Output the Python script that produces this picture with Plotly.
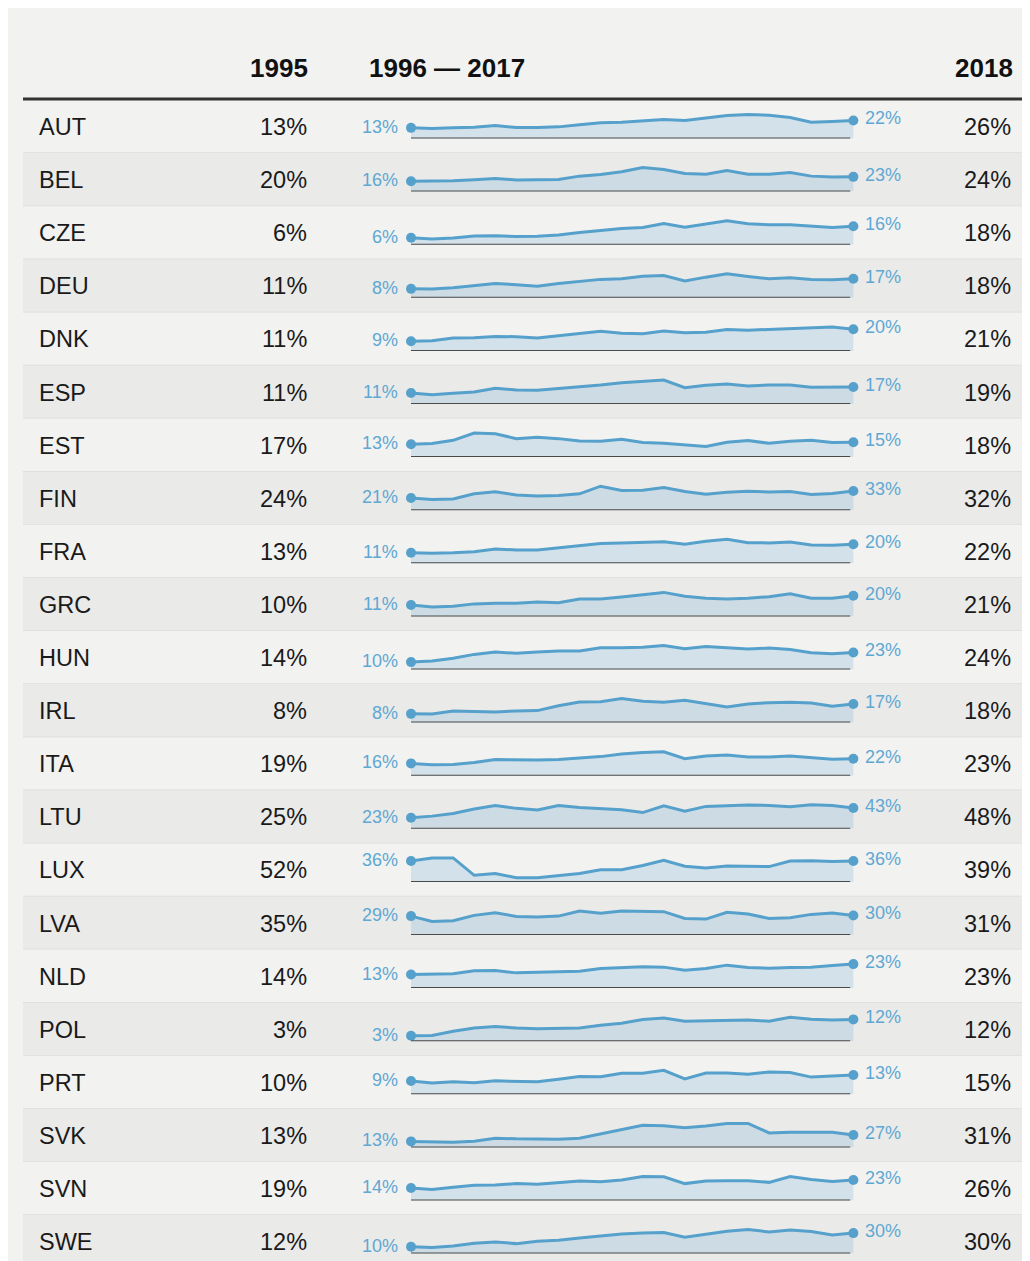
import plotly.graph_objects as go

# the page body keeps a default 8px margin, so the figure is drawn 8px in
OFF = 8
W, H = 1030 - OFF, 1261 - OFF

countries = ["AUT", "BEL", "CZE", "DEU", "DNK", "ESP", "EST", "FIN", "FRA", "GRC", "HUN",
             "IRL", "ITA", "LTU", "LUX", "LVA", "NLD", "POL", "PRT", "SVK", "SVN", "SWE"]
val_1995 = [13, 20, 6, 11, 11, 11, 17, 24, 13, 10, 14, 8, 19, 25, 52, 35, 14, 3, 10, 13, 19, 12]
val_2018 = [26, 24, 18, 18, 21, 19, 18, 32, 22, 21, 24, 18, 23, 48, 39, 31, 23, 12, 15, 31, 26, 30]
years = list(range(1996, 2018))

# 1996 - 2017 series
aut = [13, 12.2, 13.0, 13.8, 15.9, 13.4, 13.4, 14.2, 16.7, 19.1, 19.9, 21.5, 23.2, 22.0, 24.8, 28.0, 29.3, 28.5, 25.6, 19.9, 20.7, 22]
bel = [16, 16.0, 17.0, 18.6, 20.6, 18.2, 18.2, 18.7, 24.1, 26.7, 30.8, 37.4, 34.4, 28.2, 27.2, 32.8, 27.2, 27.2, 29.7, 24.1, 22.6, 23]
cze = [6, 5.0, 5.9, 7.6, 7.9, 7.1, 7.4, 8.5, 10.6, 12.6, 14.1, 15.0, 18.5, 15.3, 18.2, 20.9, 18.2, 17.4, 17.4, 16.2, 15.0, 16]
deu = [8, 7.9, 9.1, 11.2, 12.9, 11.8, 10.3, 12.9, 14.7, 16.5, 17.1, 19.4, 20.0, 15.0, 18.5, 21.5, 19.1, 17.1, 17.9, 16.5, 16.2, 17]
dnk = [9, 9.4, 11.9, 12.2, 13.4, 13.1, 11.9, 13.8, 15.6, 18.1, 16.3, 15.9, 18.4, 16.9, 17.2, 19.7, 19.1, 20.0, 20.9, 21.6, 22.2, 20]
esp = [11, 9.3, 10.7, 12.0, 15.7, 14.0, 13.7, 15.3, 17.0, 19.0, 21.3, 22.3, 24.0, 16.3, 18.7, 20.0, 18.0, 19.0, 19.0, 16.7, 16.7, 17]
est = [13, 13.7, 17.0, 24.3, 23.7, 18.7, 20.0, 18.7, 16.3, 16.0, 18.0, 14.7, 14.0, 12.0, 10.7, 15.0, 16.7, 14.0, 16.0, 17.0, 14.7, 15]
fin = [21, 18.4, 19.5, 28.2, 31.6, 26.4, 24.7, 25.3, 28.2, 41.4, 33.9, 34.5, 39.1, 32.2, 27.6, 31.0, 32.8, 31.6, 32.2, 27.0, 28.7, 33]
fra = [11, 10.5, 11.1, 12.2, 15.0, 13.9, 13.9, 16.0, 18.1, 20.6, 21.3, 22.0, 22.6, 19.9, 23.0, 25.1, 21.6, 21.3, 22.3, 19.2, 18.8, 20]
grc = [11, 9.2, 9.8, 12.1, 12.7, 12.7, 14.0, 13.3, 16.8, 16.8, 18.7, 20.6, 23.2, 19.4, 17.5, 16.8, 17.5, 19.0, 21.9, 17.5, 17.5, 20]
hun = [10, 11.6, 15.1, 20.4, 23.6, 21.8, 23.6, 24.9, 24.9, 29.3, 29.3, 30.2, 32.4, 28.0, 31.1, 29.3, 27.6, 28.9, 27.1, 22.7, 21.3, 23]
irl = [8, 7.9, 10.7, 10.4, 9.8, 10.7, 11.0, 15.5, 18.9, 19.2, 22.0, 19.5, 18.6, 20.4, 17.4, 14.3, 17.1, 18.3, 18.6, 18.0, 14.9, 17]
ita = [16, 14.1, 14.5, 17.1, 20.9, 20.5, 20.5, 20.9, 22.6, 24.8, 28.2, 30.3, 31.2, 22.2, 25.6, 26.9, 24.4, 24.4, 25.6, 23.1, 21.4, 22]
ltu = [23, 26.3, 31.6, 41.1, 48.5, 42.4, 39.1, 48.5, 44.4, 42.4, 39.7, 33.7, 47.8, 36.4, 46.5, 47.8, 49.2, 48.5, 45.8, 49.8, 48.5, 43]
lux = [36, 41.4, 41.4, 11.4, 14.4, 7.2, 7.2, 10.2, 14.4, 21.0, 21.0, 28.2, 37.2, 27.0, 24.0, 27.6, 27.0, 26.4, 36.0, 36.6, 35.4, 36]
lva = [29, 20.7, 21.8, 30.1, 34.2, 28.5, 27.5, 29.0, 36.8, 33.2, 36.8, 36.8, 35.8, 25.4, 24.4, 34.7, 32.1, 25.4, 26.4, 31.6, 33.7, 30]
nld = [13, 13.1, 13.7, 16.6, 16.9, 14.6, 15.3, 15.9, 16.2, 18.8, 19.7, 20.4, 20.1, 17.2, 18.8, 22.0, 19.7, 19.1, 19.7, 20.1, 21.7, 23]
pol = [3, 3.1, 5.5, 7.3, 8.1, 7.2, 6.8, 7.0, 7.3, 8.8, 9.9, 11.9, 12.8, 11.0, 11.2, 11.7, 11.6, 11.0, 13.2, 12.1, 11.6, 12]
prt = [9, 7.6, 8.4, 7.8, 9.1, 8.7, 8.4, 10.2, 12.0, 11.8, 14.2, 14.2, 16.2, 10.4, 14.4, 14.4, 13.6, 15.1, 14.7, 11.6, 12.2, 13]
svk = [13, 11.4, 11.4, 13.6, 20.0, 18.6, 17.9, 17.9, 20.0, 29.3, 37.1, 47.9, 47.1, 42.9, 46.4, 52.1, 52.1, 31.4, 32.9, 32.9, 32.9, 27]
svn = [14, 12.4, 15.0, 17.2, 17.5, 19.0, 18.2, 20.4, 21.9, 21.2, 23.0, 27.0, 26.6, 19.0, 21.9, 22.3, 22.3, 20.4, 27.0, 23.7, 21.5, 23]
swe = [10, 8.8, 11.2, 15.1, 17.1, 14.6, 18.0, 19.5, 22.9, 25.9, 28.8, 30.2, 30.7, 23.9, 28.3, 32.7, 35.1, 31.7, 34.6, 32.2, 27.3, 30]

trends = [aut, bel, cze, deu, dnk, esp, est, fin, fra, grc, hun,
          irl, ita, ltu, lux, lva, nld, pol, prt, svk, svn, swe]

FONT = "Liberation Sans, Arial, Helvetica, sans-serif"
BLUE = "#56a0cc"
BLUE_TXT = "#5ea8d3"
FILL = "rgba(90,163,208,0.2)"
TXT = "#1a1a1a"

ROW_TOP = 100      # page px
ROW_H = 53.1
SPARK_X0, SPARK_X1 = 400.5, 863.9   # x domain of each sparkline
BASE_OFF = 38.5    # baseline offset inside a row
SPARK_H = 31.2     # height of the y domain
HEADROOM = 1.3


def px(x):
    # page pixel -> paper
    return (x - OFF) / W


def py(y):
    return 1 - (y - OFF) / H


fig = go.Figure()
shapes = []
annotations = []

# panel background
shapes.append(dict(type="rect", xref="paper", yref="paper", x0=px(7), x1=px(1030),
                   y0=py(1261), y1=py(5), fillcolor="#f2f2f1", line_width=0, layer="below"))

# header
hdr_font = dict(family=FONT, size=26, color="#111111")
annotations += [
    dict(text="<b>1995</b>", x=px(310), y=py(68), xanchor="right", yanchor="middle", font=hdr_font),
    dict(text="<b>1996 — 2017</b>", x=px(367), y=py(68), xanchor="left", yanchor="middle", font=hdr_font),
    dict(text="<b>2018</b>", x=px(1015), y=py(68), xanchor="right", yanchor="middle", font=hdr_font),
]
for a in annotations:
    a.update(xref="paper", yref="paper", showarrow=False)

cell_font = dict(family=FONT, size=23.5, color=TXT)
lab_font = dict(family=FONT, size=18, color=BLUE_TXT)

for i, (name, v95, v18, s) in enumerate(zip(countries, val_1995, val_2018, trends)):
    top = ROW_TOP + i * ROW_H
    bot = top + ROW_H
    # row stripe + separator
    shapes.append(dict(type="rect", xref="paper", yref="paper", x0=px(23), x1=px(1027),
                       y0=py(bot), y1=py(top), fillcolor="#f2f2f1" if i % 2 == 0 else "#eaeae9",
                       line_width=0, layer="below"))
    shapes.append(dict(type="line", xref="paper", yref="paper", x0=px(23), x1=px(1027),
                       y0=py(bot), y1=py(bot), line=dict(color="#dcdcdb", width=1.5), layer="below"))

    cy = py(top + 27)
    annotations.append(dict(text=name, x=px(37), y=cy, xanchor="left", font=cell_font))
    annotations.append(dict(text=f"{v95}%", x=px(309), y=cy, xanchor="right", font=cell_font))
    annotations.append(dict(text=f"{v18}%", x=px(1013), y=cy, xanchor="right", font=cell_font))
    for a in annotations[-3:]:
        a.update(xref="paper", yref="paper", yanchor="middle", showarrow=False)

    # sparkline on its own axes
    n = i + 1
    xr, yr = ("x", "y") if n == 1 else (f"x{n}", f"y{n}")
    base = top + BASE_OFF
    fig.update_layout({
        ("xaxis" if n == 1 else f"xaxis{n}"): dict(
            domain=[px(SPARK_X0), px(SPARK_X1)], range=[years[0] - 0.5, years[-1] + 0.5],
            visible=False, fixedrange=True, anchor=yr),
        ("yaxis" if n == 1 else f"yaxis{n}"): dict(
            domain=[max(py(base), 0), py(base - SPARK_H)], range=[0, max(s) * HEADROOM],
            visible=False, fixedrange=True, anchor=xr),
    })
    fig.add_trace(go.Scatter(x=years, y=s, mode="lines", fill="tozeroy", fillcolor=FILL,
                             line=dict(color=BLUE, width=3), xaxis=xr, yaxis=yr,
                             hoverinfo="skip", showlegend=False))
    fig.add_trace(go.Scatter(x=[years[0], years[-1]], y=[s[0], s[-1]], mode="markers",
                             marker=dict(color=BLUE, size=10), cliponaxis=False,
                             xaxis=xr, yaxis=yr, showlegend=False))
    shapes.append(dict(type="line", xref=xr, yref=yr, x0=years[0], x1=years[-1] - 0.15,
                       y0=0, y1=0, line=dict(color="#4a4a4a", width=2)))
    annotations.append(dict(text=f"{s[0]:.0f}%", xref=xr, yref=yr, x=years[0], y=s[0],
                            xanchor="right", yanchor="middle", xshift=-11, yshift=1,
                            font=lab_font, showarrow=False))
    annotations.append(dict(text=f"{s[-1]:.0f}%", xref=xr, yref=yr, x=years[-1], y=s[-1],
                            xanchor="left", yanchor="middle", xshift=10, yshift=2,
                            font=lab_font, showarrow=False))

# header rule
shapes.append(dict(type="line", xref="paper", yref="paper", x0=px(23), x1=px(1027),
                   y0=py(99), y1=py(99), line=dict(color="#333333", width=3)))

fig.update_layout(
    width=W, height=H,
    margin=dict(l=0, r=0, t=0, b=0),
    paper_bgcolor="white", plot_bgcolor="rgba(0,0,0,0)",
    shapes=shapes, annotations=annotations,
    font=dict(family=FONT),
    showlegend=False,
)

fig.write_html("out.html")
